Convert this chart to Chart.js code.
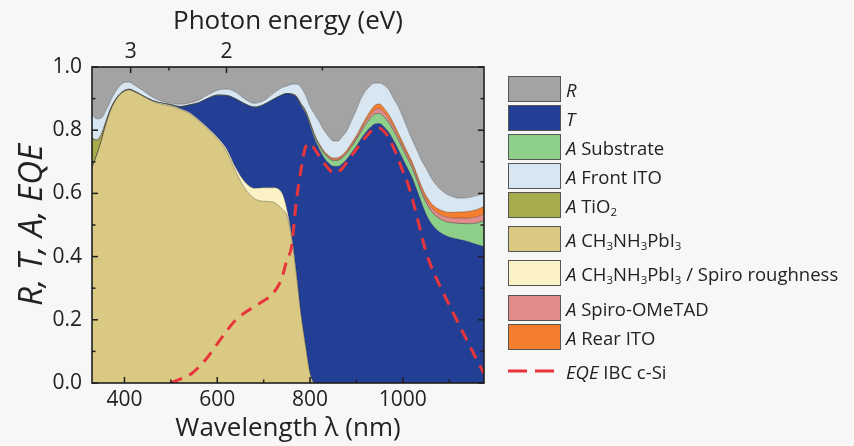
<!DOCTYPE html>
<html>
<head>
<meta charset="utf-8">
<title>R, T, A and EQE spectra</title>
<script src="https://cdn.jsdelivr.net/npm/chart.js@4.4.1/dist/chart.umd.min.js"></script>
<style>
  body { margin: 0; background: #f7f7f7; }
  #wrap { position: relative; width: 854px; height: 446px; overflow: hidden; }
  #chart { position: absolute; left: 0; top: 0; }
  .item { position: absolute; left: 508px; height: 26px; display: flex; align-items: center;
          font-family: 'Open Sans', sans-serif; font-size: 18.5px; color: #222; white-space: nowrap; }
  .swatch { width: 53px; height: 26px; box-sizing: border-box; border: 1px solid #555; margin-right: 5px; flex: none; }
  .item sub { font-size: 0.62em; vertical-align: -0.3em; line-height: 0; }
</style>
</head>
<body>
<div id="wrap">
  <canvas id="chart" width="854" height="446"></canvas>
  <div id="legend"></div>
</div>
<script>
'use strict';

// wavelength grid (nm) shared by all stacked layers
const wavelength = [330, 340, 350, 360, 370, 380, 390, 400, 410, 420,
  440, 460, 480, 500, 520, 540, 560, 580, 600, 620, 640, 660, 680, 700, 720, 740,
  750, 760, 770, 780, 790, 800,
  810, 820, 830, 840, 850, 860, 870, 880, 890, 900,
  910, 920, 930, 940, 950, 960, 970, 980, 990, 1000,
  1010, 1020, 1030, 1040, 1050, 1060, 1070, 1080, 1090, 1100,
  1120, 1140, 1160, 1175];

// stacked from the bottom up
const absPerovskite = [0.68, 0.72, 0.765, 0.818, 0.862, 0.892, 0.912, 0.923, 0.927, 0.922,
  0.907, 0.892, 0.882, 0.876, 0.866, 0.853, 0.830, 0.803, 0.773, 0.733, 0.668, 0.615, 0.584, 0.575, 0.573, 0.55,
  0.53, 0.46, 0.35, 0.22, 0.12, 0.03,
  0, 0, 0, 0, 0, 0, 0, 0, 0, 0,
  0, 0, 0, 0, 0, 0, 0, 0, 0, 0,
  0, 0, 0, 0, 0, 0, 0, 0, 0, 0,
  0, 0, 0, 0];

const absRoughness = [0, 0, 0, 0.001, 0.001, 0.001, 0.001, 0.001, 0.001, 0.001,
  0.001, 0.001, 0.003, 0.003, 0.003, 0.003, 0.003, 0.004, 0.005, 0.008, 0.012, 0.02, 0.032, 0.043, 0.045, 0.05,
  0.02, 0.01, 0.005, 0.002, 0.001, 0,
  0, 0, 0, 0, 0, 0, 0, 0, 0, 0,
  0, 0, 0, 0, 0, 0, 0, 0, 0, 0,
  0, 0, 0, 0, 0, 0, 0, 0, 0, 0,
  0, 0, 0, 0];

const transmittance = [0, 0, 0, 0, 0, 0, 0, 0, 0, 0,
  0, 0, 0, 0.001, 0.005, 0.023, 0.053, 0.093, 0.132, 0.168, 0.218, 0.247, 0.256, 0.262, 0.278, 0.311,
  0.365, 0.443, 0.55, 0.658, 0.734, 0.785,
  0.772, 0.74, 0.714, 0.696, 0.686, 0.686, 0.695, 0.71, 0.73, 0.75,
  0.773, 0.793, 0.809, 0.82, 0.821, 0.81, 0.793, 0.768, 0.74, 0.71,
  0.68, 0.65, 0.612, 0.572, 0.535, 0.508, 0.49, 0.477, 0.468, 0.462,
  0.455, 0.448, 0.438, 0.432];

const absSubstrate = [0.004, 0.003, 0.002, 0.002, 0.002, 0.001, 0.001, 0.001, 0.001, 0.001,
  0.001, 0.001, 0.001, 0.001, 0.001, 0.001, 0.001, 0.001, 0.001, 0.001, 0.001, 0.001, 0.001, 0.001, 0.001, 0.001,
  0.001, 0.001, 0.002, 0.003, 0.005, 0.006,
  0.008, 0.01, 0.013, 0.016, 0.017, 0.018, 0.018, 0.018, 0.019, 0.02,
  0.022, 0.025, 0.028, 0.031, 0.032, 0.031, 0.03, 0.03, 0.03, 0.03,
  0.03, 0.03, 0.03, 0.031, 0.035, 0.038, 0.04, 0.042, 0.044, 0.046,
  0.05, 0.056, 0.068, 0.082];

const absTiO2 = [0.09, 0.045, 0.018, 0.006, 0.002, 0.001, 0, 0, 0, 0,
  0, 0, 0, 0, 0, 0, 0, 0, 0, 0, 0, 0, 0, 0, 0, 0,
  0, 0, 0, 0, 0, 0,
  0, 0, 0, 0, 0, 0, 0, 0, 0, 0,
  0, 0, 0, 0, 0, 0, 0, 0, 0, 0,
  0, 0, 0, 0, 0, 0, 0, 0, 0, 0,
  0, 0, 0, 0];

const absSpiro = [0.001, 0.001, 0.001, 0.001, 0.001, 0.001, 0.001, 0.001, 0.001, 0.001,
  0, 0, 0, 0, 0, 0, 0, 0, 0, 0, 0, 0, 0, 0, 0, 0,
  0, 0.001, 0.001, 0.001, 0.002, 0.002,
  0.003, 0.003, 0.003, 0.003, 0.004, 0.004, 0.004, 0.004, 0.005, 0.006,
  0.008, 0.01, 0.012, 0.014, 0.015, 0.014, 0.013, 0.012, 0.011, 0.01,
  0.01, 0.01, 0.01, 0.01, 0.011, 0.012, 0.013, 0.014, 0.015, 0.015,
  0.017, 0.018, 0.02, 0.021];

const absRearITO = [0, 0, 0, 0, 0, 0, 0, 0, 0, 0,
  0, 0, 0, 0, 0, 0, 0, 0, 0, 0, 0, 0, 0, 0, 0, 0,
  0, 0, 0.001, 0.002, 0.002, 0.003,
  0.003, 0.004, 0.004, 0.005, 0.005, 0.005, 0.005, 0.006, 0.006, 0.007,
  0.008, 0.01, 0.012, 0.014, 0.015, 0.014, 0.013, 0.012, 0.011, 0.011,
  0.01, 0.01, 0.01, 0.011, 0.012, 0.013, 0.014, 0.015, 0.016, 0.017,
  0.019, 0.021, 0.023, 0.024];

const absFrontITO = [0.073, 0.067, 0.052, 0.034, 0.025, 0.024, 0.025, 0.025, 0.022, 0.019,
  0.016, 0.011, 0.006, 0.004, 0.007, 0.006, 0.008, 0.011, 0.015, 0.02, 0.021, 0.015, 0.012, 0.012, 0.018, 0.023,
  0.024, 0.03, 0.037, 0.051, 0.048, 0.049,
  0.065, 0.069, 0.066, 0.06, 0.054, 0.053, 0.058, 0.062, 0.072, 0.082,
  0.089, 0.087, 0.08, 0.07, 0.066, 0.073, 0.079, 0.078, 0.083, 0.081,
  0.075, 0.07, 0.076, 0.081, 0.087, 0.081, 0.073, 0.066, 0.059, 0.054,
  0.044, 0.043, 0.044, 0.039];

const reflectance = [0.152, 0.164, 0.162, 0.138, 0.107, 0.08, 0.06, 0.049, 0.048, 0.056,
  0.075, 0.095, 0.108, 0.115, 0.118, 0.114, 0.105, 0.088, 0.074, 0.07, 0.08, 0.102, 0.115, 0.107, 0.085, 0.065,
  0.06, 0.055, 0.054, 0.063, 0.088, 0.125,
  0.149, 0.174, 0.20, 0.22, 0.234, 0.234, 0.22, 0.20, 0.168, 0.135,
  0.10, 0.075, 0.059, 0.051, 0.051, 0.058, 0.072, 0.10, 0.125, 0.158,
  0.195, 0.23, 0.262, 0.295, 0.32, 0.348, 0.37, 0.386, 0.398, 0.406,
  0.415, 0.414, 0.407, 0.402];

// EQE of the IBC c-Si bottom cell (dashed line, not stacked)
const eqeWavelength = [500, 520, 540, 560, 580, 600, 620, 640, 660, 680, 700, 720, 740,
  750, 760, 770, 780, 790, 800, 810, 820, 830, 840,
  850, 860, 870, 880, 890, 900, 910, 920, 930, 940,
  950, 960, 970, 980, 990, 1000, 1010, 1020, 1030, 1040,
  1050, 1060, 1080, 1100, 1120, 1140, 1160, 1175];
const eqeIBC = [0, 0.012, 0.025, 0.05, 0.083, 0.124, 0.164, 0.2, 0.223, 0.242, 0.26, 0.283, 0.335,
  0.39, 0.43, 0.57, 0.67, 0.745, 0.758, 0.74, 0.718, 0.697, 0.678,
  0.665, 0.668, 0.68, 0.70, 0.72, 0.74, 0.76, 0.778, 0.795, 0.805,
  0.806, 0.795, 0.775, 0.745, 0.71, 0.67, 0.635, 0.585, 0.53, 0.47,
  0.415, 0.373, 0.307, 0.247, 0.188, 0.13, 0.072, 0.03];

// axis ticks
const wavelengthTicks = [400, 600, 800, 1000];
const wavelengthMinorTicks = [500, 700, 900, 1100];
const energyTicks = [3, 2];
const energyMinorTicks = [2.5, 1.5];
const rtaTicks = [0, 0.2, 0.4, 0.6, 0.8, 1.0];
const rtaMinorTicks = [0.1, 0.3, 0.5, 0.7, 0.9];

const HC = 1239.84; // eV*nm

const pts = (xs, ys) => xs.map((x, i) => ({ x: x, y: ys[i] }));

const layer = (label, values, color) => ({
  label: label,
  data: pts(wavelength, values),
  backgroundColor: color,
  borderColor: 'rgba(30,30,30,0.45)',
  borderWidth: 0.7,
  pointRadius: 0,
  fill: '-1',
  cubicInterpolationMode: 'monotone'
});

const dsPerovskite = layer('A CH3NH3PbI3', absPerovskite, '#d9c982');
dsPerovskite.fill = 'origin';
const dsRoughness = layer('A CH3NH3PbI3 / Spiro roughness', absRoughness, '#fbf3c6');
const dsT = layer('T', transmittance, '#223f95');
const dsSubstrate = layer('A Substrate', absSubstrate, '#8ecf8a');
const dsTiO2 = layer('A TiO2', absTiO2, '#a8ab4b');
const dsSpiro = layer('A Spiro-OMeTAD', absSpiro, '#e28b8b');
const dsRearITO = layer('A Rear ITO', absRearITO, '#f47d2e');
const dsFrontITO = layer('A Front ITO', absFrontITO, '#d8e6f2');
const dsR = layer('R', reflectance, '#a3a3a3');

const dsEQE = {
  label: 'EQE IBC c-Si',
  data: pts(eqeWavelength, eqeIBC),
  yAxisID: 'yEqe',
  borderColor: '#e8353b',
  borderWidth: 3,
  borderDash: [12, 8],
  pointRadius: 0,
  fill: false,
  order: -1,
  cubicInterpolationMode: 'monotone'
};

// inward ticks and the plot frame
const frameTicks = {
  id: 'frameTicks',
  afterDatasetsDraw(chart) {
    const { ctx, chartArea: a, scales } = chart;
    ctx.save();
    ctx.strokeStyle = '#1e1e1e';
    ctx.lineWidth = 1.5;
    const mark = (x1, y1, x2, y2) => { ctx.beginPath(); ctx.moveTo(x1, y1); ctx.lineTo(x2, y2); ctx.stroke(); };
    wavelengthTicks.forEach(v => { const p = scales.x.getPixelForValue(v); mark(p, a.bottom, p, a.bottom - 6); });
    wavelengthMinorTicks.forEach(v => { const p = scales.x.getPixelForValue(v); mark(p, a.bottom, p, a.bottom - 3.5); });
    energyTicks.forEach(e => { const p = scales.xTop.getPixelForValue(HC / e); mark(p, a.top, p, a.top + 6); });
    energyMinorTicks.forEach(e => { const p = scales.xTop.getPixelForValue(HC / e); mark(p, a.top, p, a.top + 3.5); });
    rtaTicks.forEach(v => {
      const p = scales.y.getPixelForValue(v);
      mark(a.left, p, a.left + 6, p); mark(a.right, p, a.right - 6, p);
    });
    rtaMinorTicks.forEach(v => {
      const p = scales.y.getPixelForValue(v);
      mark(a.left, p, a.left + 3.5, p); mark(a.right, p, a.right - 3.5, p);
    });
    ctx.lineWidth = 1.6;
    ctx.strokeRect(a.left, a.top, a.right - a.left, a.bottom - a.top);
    ctx.restore();
  }
};

Chart.defaults.font.family = "'Open Sans', sans-serif";
Chart.defaults.color = '#222';

const chart = new Chart(document.getElementById('chart'), {
  type: 'line',
  data: {
    datasets: [dsPerovskite, dsRoughness, dsT, dsSubstrate, dsTiO2, dsSpiro, dsRearITO, dsFrontITO, dsR, dsEQE]
  },
  options: {
    responsive: false,
    animation: false,
    devicePixelRatio: 1,
    layout: { padding: { left: 0, right: 370, top: 0, bottom: 0 } },
    plugins: { legend: { display: false }, tooltip: { enabled: false } },
    scales: {
      x: {
        type: 'linear', min: 330, max: 1175,
        grid: { display: false, drawTicks: false },
        border: { display: false },
        afterBuildTicks: s => { s.ticks = wavelengthTicks.map(v => ({ value: v })); },
        afterFit: s => { s.height = 63; },
        ticks: { font: { size: 21 }, padding: 4, maxRotation: 0, callback: v => String(v) },
        title: { display: true, text: 'Wavelength \u03bb (nm)', font: { size: 26 }, padding: { top: 0, bottom: 2 } }
      },
      xTop: {
        type: 'linear', position: 'top', min: 330, max: 1175,
        grid: { display: false, drawTicks: false },
        border: { display: false },
        afterBuildTicks: s => { s.ticks = energyTicks.map(e => ({ value: HC / e })); },
        afterFit: s => { s.height = 67; },
        ticks: { font: { size: 21 }, padding: 2, maxRotation: 0, callback: (v, i) => String(energyTicks[i]) },
        title: { display: true, text: 'Photon energy (eV)', font: { size: 26 }, padding: { top: 6, bottom: 0 } }
      },
      y: {
        stacked: true, min: 0, max: 1,
        grid: { display: false, drawTicks: false },
        border: { display: false },
        afterBuildTicks: s => { s.ticks = rtaTicks.map(v => ({ value: v })); },
        afterFit: s => { s.width = 92; },
        ticks: { font: { size: 21 }, padding: 10, callback: v => Number(v).toFixed(1) },
        title: { display: true, text: 'R, T, A, EQE', font: { size: 33, style: 'italic' }, padding: { top: 13, bottom: 0 } }
      },
      yEqe: { display: false, min: 0, max: 1, stacked: false }
    }
  },
  plugins: [frameTicks]
});

// legend, with italic symbols and chemical subscripts
const legendItems = [
  { ds: dsR, html: '<i>R</i>', top: 76 },
  { ds: dsT, html: '<i>T</i>', top: 105 },
  { ds: dsSubstrate, html: '<i>A</i>&nbsp;Substrate', top: 134 },
  { ds: dsFrontITO, html: '<i>A</i>&nbsp;Front ITO', top: 163 },
  { ds: dsTiO2, html: '<i>A</i>&nbsp;TiO<sub>2</sub>', top: 192 },
  { ds: dsPerovskite, html: '<i>A</i>&nbsp;CH<sub>3</sub>NH<sub>3</sub>PbI<sub>3</sub>', top: 226 },
  { ds: dsRoughness, html: '<i>A</i>&nbsp;CH<sub>3</sub>NH<sub>3</sub>PbI<sub>3</sub> / Spiro roughness', top: 260 },
  { ds: dsSpiro, html: '<i>A</i>&nbsp;Spiro-OMeTAD', top: 295 },
  { ds: dsRearITO, html: '<i>A</i>&nbsp;Rear ITO', top: 324 },
  { ds: dsEQE, html: '<i>EQE</i>&nbsp;IBC c-Si', top: 358, line: true }
];
const legendEl = document.getElementById('legend');
legendItems.forEach(it => {
  const row = document.createElement('div');
  row.className = 'item';
  row.style.top = it.top + 'px';
  let sw;
  if (it.line) {
    sw = '<svg width="53" height="26" style="margin-right:5px;flex:none"><line x1="0" y1="13" x2="53" y2="13" stroke="' +
      it.ds.borderColor + '" stroke-width="3" stroke-dasharray="19 8"/></svg>';
  } else {
    sw = '<div class="swatch" style="background:' + it.ds.backgroundColor + '"></div>';
  }
  row.innerHTML = sw + '<span>' + it.html + '</span>';
  legendEl.appendChild(row);
});
</script>
</body>
</html>
